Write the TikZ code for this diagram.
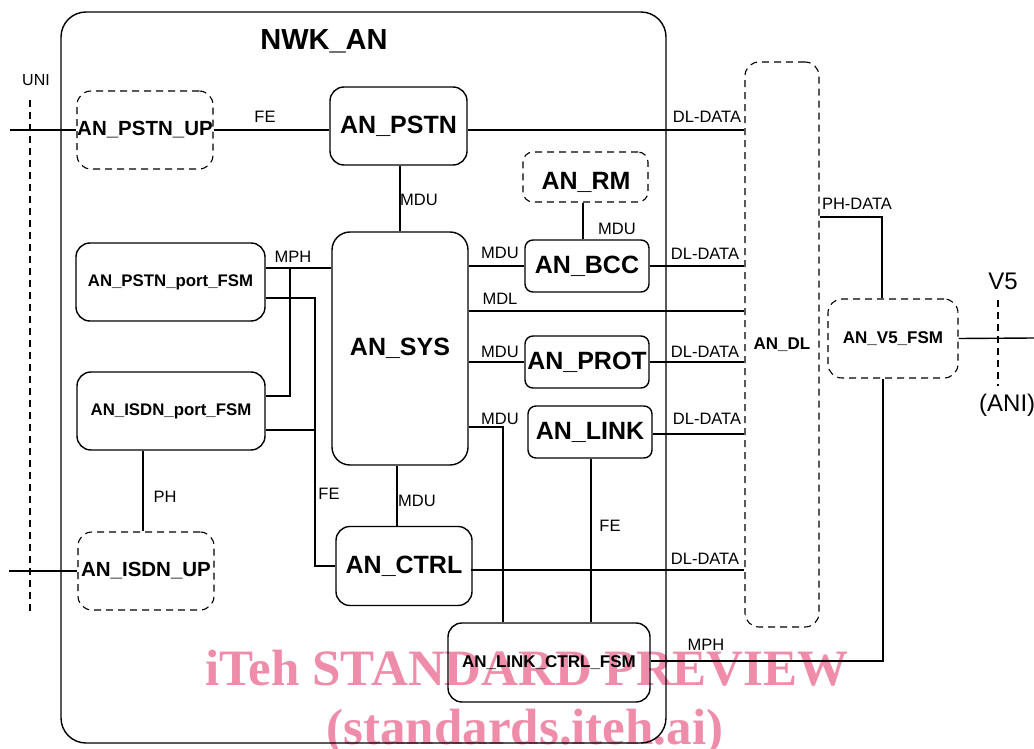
\documentclass[tikz,border=0pt]{standalone}
\usepackage{fontspec}
\setmainfont{Liberation Sans}
\newfontfamily\wmfont{Liberation Serif}
\definecolor{wmpink}{RGB}{238,140,170}
\begin{document}
\begin{tikzpicture}[x=1pt,y=-1pt,
  ln/.style={line width=1.4pt},
  box/.style={draw, line width=1.4pt, rounded corners=14pt, inner sep=0pt,
    font=\bfseries\fontsize{25}{28}\selectfont},
  dbox/.style={box, dash pattern=on 7pt off 5pt, line width=1.1pt},
  sbold/.style={font=\bfseries\fontsize{17}{19}\selectfont},
  pbold/.style={font=\bfseries\fontsize{16.8}{19}\selectfont},
  lbl/.style={font=\fontsize{16.5}{18}\selectfont, inner sep=0pt},
  wm/.style={font=\wmfont\bfseries\fontsize{51}{54}\selectfont, text=wmpink, inner sep=0pt, anchor=base}
]
\useasboundingbox (0,0) rectangle (1034,749);

% watermark (behind)
\node[wm] (wm1) at (527,685) {iTeh STANDARD PREVIEW};
\node[wm] (wm2) at (525,744) {(standards.iteh.ai)};

% outer NWK_AN
\node[draw, line width=1.4pt, rounded corners=25pt, inner sep=0pt,
  minimum width=605pt, minimum height=731pt] (nwk) at (363.5,377.5) {};
\node[font=\bfseries\fontsize{29}{32}\selectfont, inner sep=0pt] (title) at (324,41) {NWK\_AN};

% UNI interface
\node[font=\fontsize{16}{18}\selectfont, inner sep=0pt] (uni) at (36,80) {UNI};
\coordinate (unit) at (30,100);
\coordinate (unib) at (30,612);
\draw[line width=1.1pt, dash pattern=on 7pt off 5pt] (unit) -- (unib);

% boxes
\node[dbox, minimum width=136pt, minimum height=78pt, font=\bfseries\fontsize{20.5}{23}\selectfont] (pstnup) at (145,130) {AN\_PSTN\_UP};
\node[box, minimum width=137pt, minimum height=78pt] (pstn) at (398.5,126) {AN\_PSTN};
\node[box, rounded corners=18pt, minimum width=136pt, minimum height=233pt] (sys) at (400,348.5) {AN\_SYS};
\node[dbox, rounded corners=10pt, minimum width=125pt, minimum height=50pt] (rm) at (585.5,177) {};
\node[font=\bfseries\fontsize{25}{28}\selectfont, inner sep=0pt] (rmtext) at (586,182) {AN\_RM};
\node[box, rounded corners=8pt, minimum width=124pt, minimum height=52pt] (bcc) at (587,266) {AN\_BCC};
\node[box, rounded corners=8pt, minimum width=124pt, minimum height=52pt] (prot) at (587,362) {AN\_PROT};
\node[box, rounded corners=8pt, minimum width=124pt, minimum height=52pt] (link) at (590,432) {AN\_LINK};
\node[box, minimum width=136pt, minimum height=79pt] (ctrl) at (404,566) {AN\_CTRL};
\node[box, sbold, minimum width=202pt, minimum height=79pt] (lcf) at (549,662.5) {AN\_LINK\_CTRL\_FSM};
\node[box, pbold, minimum width=189pt, minimum height=78pt] (pstnport) at (170.5,282) {AN\_PSTN\_port\_FSM};
\node[box, pbold, minimum width=188pt, minimum height=78pt] (isdnport) at (171,411) {AN\_ISDN\_port\_FSM};
\node[dbox, minimum width=136pt, minimum height=78pt, font=\bfseries\fontsize{20.5}{23}\selectfont] (isdnup) at (146,571) {AN\_ISDN\_UP};
\node[dbox, minimum width=74pt, minimum height=565pt, sbold] (andl) at (782,344.5) {AN\_DL};
\node[dbox, minimum width=130pt, minimum height=79pt, sbold] (v5fsm) at (893,338.5) {AN\_V5\_FSM};

% V5 interface
\coordinate (v5t) at (998,300);
\coordinate (v5b) at (998,386);
\draw[line width=1.1pt, dash pattern=on 7pt off 5pt] (v5t) -- (v5b);
\node[font=\fontsize{24}{26}\selectfont, inner sep=0pt] (v5lbl) at (1003,281) {V5};
\node[font=\fontsize{24}{26}\selectfont, inner sep=0pt, anchor=west] (anilbl) at (979,405) {(ANI)};

% connector coordinates
\coordinate (pstnin) at (10,130);
\coordinate (isdnin) at (9,571);
\coordinate (v5out) at (1034,338);
\coordinate (mdl) at (500,311);
\coordinate (lk) at (503,427);
\coordinate (mph) at (883,661);
\coordinate (phd) at (882,217);
\coordinate (mphp) at (290,268);
\coordinate (mphi) at (290,396);
\coordinate (fe1) at (315,298);
\coordinate (fe2) at (315,430);
\coordinate (ph) at (143,450);
\coordinate (ctrlr) at (471,570);

% connectors
\draw[ln] (pstnin) -- (pstnup.west);
\draw[ln] (pstnup.east) -- (pstnup.east -| pstn.west);
\draw[ln] (pstn.east |- pstnup.east) -- (pstnup.east -| andl.west);
\draw[ln] (pstn.south -| sys.north) -- (sys.north);
\draw[ln] (rm.south -| 583,0) -- (bcc.north -| 583,0);
\draw[ln] (bcc.west -| sys.east) -- (bcc.west);
\draw[ln] (bcc.east) -- (bcc.east -| andl.west);
\draw[ln] (mdl -| sys.east) -- (mdl -| andl.west);
\draw[ln] (prot.west -| sys.east) -- (prot.west);
\draw[ln] (prot.east) -- (prot.east -| andl.west);
\draw[ln] (link.east |- 0,434) -- (andl.west |- 0,434);
\draw[ln] (lk -| sys.east) -| (lk |- lcf.north);
\draw[ln] (link.south -| 591,0) -- (lcf.north -| 591,0);
\draw[ln] (sys.south -| 397,0) -- (ctrl.north -| 397,0);
\draw[ln] (ctrlr) -- (ctrlr -| andl.west);
\draw[ln] (lcf.east |- mph) -| (v5fsm.south -| mph);
\draw[ln] (andl.east |- phd) -| (v5fsm.north -| phd);
\draw[ln] (v5fsm.east) -- (v5out);
\draw[ln] (pstnport.east |- mphp) -- (sys.west |- mphp);
\draw[ln] (mphp) -- (mphi) -- (mphi -| isdnport.east);
\draw[ln] (pstnport.east |- fe1) -| (fe1 |- ctrl.west) -- (ctrl.west);
\draw[ln] (isdnport.east |- fe2) -- (fe2);
\draw[ln] (isdnport.south -| ph) -- (isdnup.north -| ph);
\draw[ln] (isdnin) -- (isdnup.west);

% labels
\node[lbl] (l1) at (265,117) {FE};
\node[lbl] (l2) at (707,117) {DL-DATA};
\node[lbl] (l3) at (419,200) {MDU};
\node[lbl] (l4) at (617,229) {MDU};
\node[lbl] (l5) at (500,253) {MDU};
\node[lbl] (l6) at (705,254) {DL-DATA};
\node[lbl] (l7) at (500,299) {MDL};
\node[lbl] (l8) at (500,352) {MDU};
\node[lbl] (l9) at (705,352) {DL-DATA};
\node[lbl] (l10) at (500,419) {MDU};
\node[lbl] (l11) at (707,419) {DL-DATA};
\node[lbl] (l12) at (610,526) {FE};
\node[lbl] (l13) at (417,501) {MDU};
\node[lbl] (l14) at (705,559) {DL-DATA};
\node[lbl] (l15) at (706,645) {MPH};
\node[lbl] (l16) at (857,204) {PH-DATA};
\node[lbl] (l17) at (293,257) {MPH};
\node[lbl] (l18) at (329,494) {FE};
\node[lbl] (l19) at (165,497) {PH};
\end{tikzpicture}
\end{document}
